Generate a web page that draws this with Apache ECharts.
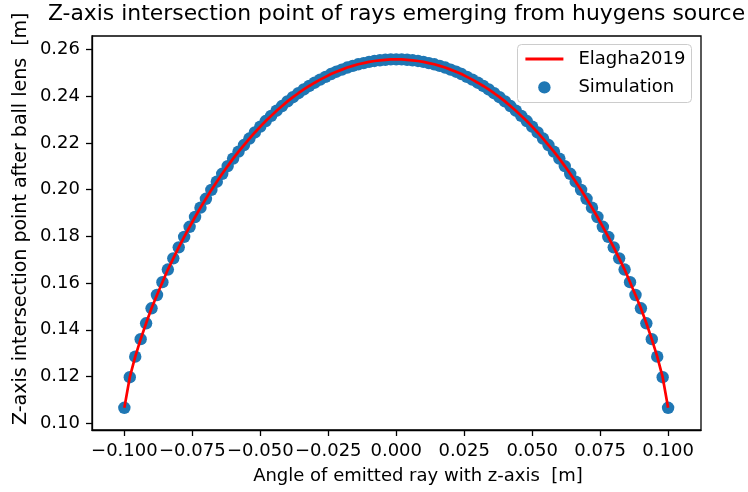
<!DOCTYPE html>
<html>
<head>
<meta charset="utf-8">
<script src="https://cdn.jsdelivr.net/npm/echarts@6/dist/echarts.min.js"></script>
<style>html,body{margin:0;padding:0;background:#fff;}#c{width:748px;height:492px;}</style>
</head>
<body>
<div id="c"></div>
<script>
const angles = [
  -0.100,-0.098,-0.096,-0.094,-0.092,-0.090,-0.088,-0.086,-0.084,-0.082,
  -0.080,-0.078,-0.076,-0.074,-0.072,-0.070,-0.068,-0.066,-0.064,-0.062,
  -0.060,-0.058,-0.056,-0.054,-0.052,-0.050,-0.048,-0.046,-0.044,-0.042,
  -0.040,-0.038,-0.036,-0.034,-0.032,-0.030,-0.028,-0.026,-0.024,-0.022,
  -0.020,-0.018,-0.016,-0.014,-0.012,-0.010,-0.008,-0.006,-0.004,-0.002,
  0.000,
  0.002,0.004,0.006,0.008,0.010,0.012,0.014,0.016,0.018,0.020,
  0.022,0.024,0.026,0.028,0.030,0.032,0.034,0.036,0.038,0.040,
  0.042,0.044,0.046,0.048,0.050,0.052,0.054,0.056,0.058,0.060,
  0.062,0.064,0.066,0.068,0.070,0.072,0.074,0.076,0.078,0.080,
  0.082,0.084,0.086,0.088,0.090,0.092,0.094,0.096,0.098,0.100
];
const simZ = [
  0.1066,0.1197,0.1285,0.1360,0.1428,0.1492,0.1549,0.1604,0.1658,0.1706,
  0.1753,0.1798,0.1841,0.1883,0.1923,0.1961,0.1999,0.2034,0.2068,0.2101,
  0.2133,0.2163,0.2191,0.2219,0.2245,0.2270,0.2294,0.2316,0.2338,0.2358,
  0.2378,0.2396,0.2413,0.2429,0.2444,0.2458,0.2471,0.2483,0.2495,0.2505,
  0.2514,0.2523,0.2530,0.2537,0.2542,0.2547,0.2551,0.2554,0.2556,0.2558,
  0.2558,
  0.2558,0.2556,0.2554,0.2551,0.2547,0.2542,0.2537,0.2530,0.2523,0.2514,
  0.2505,0.2495,0.2483,0.2471,0.2458,0.2444,0.2429,0.2413,0.2396,0.2378,
  0.2358,0.2338,0.2316,0.2294,0.2270,0.2245,0.2219,0.2191,0.2163,0.2133,
  0.2101,0.2068,0.2034,0.1999,0.1961,0.1923,0.1883,0.1841,0.1798,0.1753,
  0.1706,0.1658,0.1604,0.1549,0.1492,0.1428,0.1360,0.1285,0.1197,0.1066
];
const elaghaZ = [
  0.1066,0.1197,0.1285,0.1360,0.1428,0.1492,0.1549,0.1604,0.1658,0.1706,
  0.1753,0.1798,0.1841,0.1883,0.1923,0.1961,0.1999,0.2034,0.2068,0.2101,
  0.2133,0.2163,0.2191,0.2219,0.2245,0.2270,0.2294,0.2316,0.2338,0.2358,
  0.2378,0.2396,0.2413,0.2429,0.2444,0.2458,0.2471,0.2483,0.2495,0.2505,
  0.2514,0.2523,0.2530,0.2537,0.2542,0.2547,0.2551,0.2554,0.2556,0.2558,
  0.2558,
  0.2558,0.2556,0.2554,0.2551,0.2547,0.2542,0.2537,0.2530,0.2523,0.2514,
  0.2505,0.2495,0.2483,0.2471,0.2458,0.2444,0.2429,0.2413,0.2396,0.2378,
  0.2358,0.2338,0.2316,0.2294,0.2270,0.2245,0.2219,0.2191,0.2163,0.2133,
  0.2101,0.2068,0.2034,0.1999,0.1961,0.1923,0.1883,0.1841,0.1798,0.1753,
  0.1706,0.1658,0.1604,0.1549,0.1492,0.1428,0.1360,0.1285,0.1197,0.1066
];
const xTicks = [-0.1,-0.075,-0.05,-0.025,0,0.025,0.05,0.075,0.1];
const xTickLabels = ['\u22120.100','\u22120.075','\u22120.050','\u22120.025','0.000','0.025','0.050','0.075','0.100'];
const yTicks = [0.10,0.12,0.14,0.16,0.18,0.20,0.22,0.24,0.26];
const yTickLabels = ['0.10','0.12','0.14','0.16','0.18','0.20','0.22','0.24','0.26'];

const FONT = 'DejaVu Sans';
const chart = echarts.init(document.getElementById('c'), null, {renderer: 'canvas'});
function lab(ticks, labels) {
  return v => { const i = ticks.findIndex(t => Math.abs(t - v) < 1e-9); return i >= 0 ? labels[i] : ''; };
}
const simData = angles.map((a, i) => [a, simZ[i]]);
const lineData = angles.map((a, i) => [a, elaghaZ[i]]);

chart.setOption({
  animation: false,
  backgroundColor: '#ffffff',
  title: {
    text: 'Z-axis intersection point of rays emerging from huygens source',
    left: 396.5, textAlign: 'center', top: 3, padding: 0,
    textStyle: {fontFamily: FONT, fontSize: 21.9, fontWeight: 'normal', color: '#000'}
  },
  grid: {left: 92, right: 47, top: 36, bottom: 62, show: true, borderColor: '#000', borderWidth: 1.3, backgroundColor: 'transparent'},
  xAxis: {
    type: 'value', min: -0.1119, max: 0.1121,
    axisLine: {show: true, onZero: false, lineStyle: {color: '#000', width: 1.3}},
    axisTick: {show: true, inside: false, length: 6, customValues: xTicks, lineStyle: {color: '#000', width: 1.3}},
    axisLabel: {show: true, margin: 12, customValues: xTicks, formatter: lab(xTicks, xTickLabels), fontFamily: FONT, fontSize: 18, color: '#000'},
    splitLine: {show: false}
  },
  yAxis: {
    type: 'value', min: 0.0971, max: 0.2658,
    axisLine: {show: true, onZero: false, lineStyle: {color: '#000', width: 1.3}},
    axisTick: {show: true, inside: false, length: 6, customValues: yTicks, lineStyle: {color: '#000', width: 1.3}},
    axisLabel: {show: true, margin: 12, customValues: yTicks, formatter: lab(yTicks, yTickLabels), fontFamily: FONT, fontSize: 18, color: '#000'},
    splitLine: {show: false}
  },
  legend: {
    data: [{name: 'Elagha2019', itemStyle: {opacity: 0}, lineStyle: {color: '#ff0000', width: 2.8}}, {name: 'Simulation'}],
    orient: 'vertical', left: 524, top: 48.5, padding: 0,
    itemWidth: 38, itemHeight: 12.4, itemGap: 7.4, selectedMode: false, z: 20,
    textStyle: {fontFamily: FONT, fontSize: 18, color: '#000', lineHeight: 21, padding: [0, 0, 0, 10]}
  },
  graphic: [
    {type: 'rect', z: 10, shape: {x: 517.5, y: 44.5, width: 174, height: 58, r: 4},
     style: {fill: 'rgba(255,255,255,0.8)', stroke: '#cccccc', lineWidth: 1}},
    {type: 'text', z: 10, x: 21, y: 425, rotation: Math.PI / 2,
     style: {text: 'Z-axis intersection point after ball lens  [m]', font: '19px "DejaVu Sans"', fill: '#000', align: 'left', verticalAlign: 'middle'}},
    {type: 'text', z: 10, x: 418, y: 476,
     style: {text: 'Angle of emitted ray with z-axis  [m]', font: '18px "DejaVu Sans"', fill: '#000', align: 'center', verticalAlign: 'middle'}}
  ],
  series: [
    {name: 'Elagha2019', type: 'line', data: lineData, showSymbol: false, symbol: 'none', z: 3,
     lineStyle: {color: '#ff0000', width: 2.7}, itemStyle: {color: '#ff0000'}},
    {name: 'Simulation', type: 'scatter', data: simData, symbolSize: 12.4, z: 2,
     itemStyle: {color: '#1f77b4', opacity: 1}}
  ]
});
</script>
</body>
</html>
